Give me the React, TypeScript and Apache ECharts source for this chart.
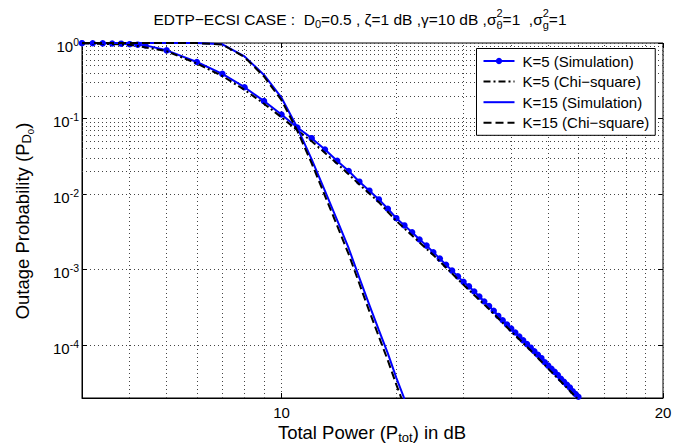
import React, { useEffect, useRef } from "react";
import * as echarts from "echarts";

const FONT = '"Liberation Sans", Arial, Helvetica, sans-serif';

// K=5 simulation: total power (linear scale), outage probability
const k5SimPower = [3, 3.2, 3.4, 3.6, 3.8, 4, 4.2, 4.4, 5, 6, 7, 8, 9, 10, 11, 12, 13, 14, 15, 16, 17, 18, 19, 20, 21, 22, 23, 24, 25, 26, 27, 28, 29, 30, 31, 32, 33, 34, 35, 36, 37, 38, 39, 40, 41, 42, 43, 44, 45, 46, 47, 48, 49, 50, 51, 52, 53, 54, 55, 56, 57, 58, 59, 60];
const k5SimOut = [0.995, 0.993, 0.99, 0.986, 0.98, 0.965, 0.95, 0.93, 0.8, 0.56, 0.39, 0.26, 0.17, 0.113, 0.076, 0.055, 0.039, 0.0275, 0.0202, 0.0146, 0.0111, 0.0085, 0.0064, 0.0048, 3.85e-3, 3.13e-3, 2.51e-3, 2.08e-3, 1.7e-3, 1.4e-3, 1.16e-3, 9.7e-4, 8.15e-4, 6.89e-4, 6.0e-4, 5.13e-4, 4.4e-4, 3.79e-4, 3.29e-4, 2.86e-4, 2.44e-4, 2.14e-4, 1.88e-4, 1.66e-4, 1.47e-4, 1.3e-4, 1.16e-4, 1.035e-4, 9.27e-5, 8.3e-5, 7.46e-5, 6.73e-5, 5.94e-5, 5.37e-5, 4.88e-5, 4.43e-5, 4.03e-5, 3.59e-5, 3.27e-5, 3.0e-5, 2.75e-5, 2.46e-5, 2.26e-5, 2.08e-5];

// K=5 chi-square approximation
const k5ChiPower = [3, 4, 5, 6, 7, 8, 9, 10, 11, 12, 14, 16, 18, 20, 25, 30, 35, 40, 45, 50, 55, 60];
const k5ChiOut = [0.995, 0.95, 0.78, 0.535, 0.365, 0.24, 0.157, 0.104, 0.07, 0.05, 0.0253, 0.0134, 0.0078, 0.0044, 1.56e-3, 6.3e-4, 3.0e-4, 1.52e-4, 8.5e-5, 4.9e-5, 3.0e-5, 1.9e-5];

// K=15 simulation
const k15SimPower = [3, 4, 5, 6, 7, 8, 9, 10, 11, 12, 13, 14, 15, 16, 17, 18, 19, 20, 21];
const k15SimOut = [1.0, 1.0, 0.9995, 0.998, 0.96, 0.665, 0.378, 0.189, 0.076, 0.0288, 0.011, 0.0045, 1.92e-3, 7.8e-4, 3.4e-4, 1.58e-4, 7.8e-5, 3.7e-5, 1.95e-5];

// K=15 chi-square approximation
const k15ChiPower = [3, 4, 5, 6, 7, 8, 9, 10, 11, 12, 13, 14, 15, 16, 17, 18, 19, 20, 21];
const k15ChiOut = [1.0, 1.0, 0.9995, 0.997, 0.955, 0.65, 0.36, 0.175, 0.069, 0.0255, 0.0095, 0.0038, 1.6e-3, 6.5e-4, 2.8e-4, 1.3e-4, 6.3e-5, 3.0e-5, 1.55e-5];

const seriesNames = ["K=5 (Simulation)", "K=5 (Chi\u2212square)", "K=15 (Simulation)", "K=15 (Chi\u2212square)"];

// axis ticks (x: linear power values labelled in dB)
const xTickPower = [10, 100];
const xTickLabels = ["10", "20"];
const yTickExponents = [0, -1, -2, -3, -4];

// minor grid positions
const minorGridPower = [4, 5, 6, 7, 8, 9, 20, 30, 40, 50, 60, 70, 80, 90];
const minorGridProb = [
  3e-5, 4e-5, 5e-5, 6e-5, 7e-5, 8e-5, 9e-5,
  2e-4, 3e-4, 4e-4, 5e-4, 6e-4, 7e-4, 8e-4, 9e-4,
  2e-3, 3e-3, 4e-3, 5e-3, 6e-3, 7e-3, 8e-3, 9e-3,
  0.02, 0.03, 0.04, 0.05, 0.06, 0.07, 0.08, 0.09,
  0.2, 0.3, 0.4, 0.5, 0.6, 0.7, 0.8, 0.9,
];

type TitlePart = { kind: "n" | "sub" | "stack"; text?: string; sup?: string; sub?: string };
const titleParts: TitlePart[] = [
  { kind: "n", text: "EDTP\u2212ECSI CASE :  D" },
  { kind: "sub", text: "0" },
  { kind: "n", text: "=0.5 , \u03b6=1 dB ,\u03b3=10 dB ,\u03c3" },
  { kind: "stack", sup: "2", sub: "\u03b8" },
  { kind: "n", text: "=1  ,\u03c3" },
  { kind: "stack", sup: "2", sub: "g" },
  { kind: "n", text: "=1" },
];

const zip = (xs: number[], ys: number[]) => xs.map((x, i) => [x, ys[i]]);

export default function App() {
  const ref = useRef<HTMLDivElement>(null);
  useEffect(() => {
    document.body.style.margin = "0";
    const el = ref.current!;
    const chart = echarts.init(el, undefined, { renderer: "svg", width: 691, height: 445 });

    const ctx = document.createElement("canvas").getContext("2d")!;
    const measure = (t: string, fs: number) => {
      ctx.font = `${fs}px ${FONT}`;
      return ctx.measureText(t).width;
    };

    const TF = 15.5;
    const TS = 11;
    const TY = 19;
    const partW = titleParts.map((p) =>
      p.kind === "stack" ? Math.max(measure(p.sup!, TS), measure(p.sub!, TS)) : measure(p.text!, p.kind === "sub" ? TS : TF)
    );
    const total = partW.reduce((a, b) => a + b, 0);
    let tx = 360 - total / 2;
    const titleEls: any[] = [];
    const txt = (text: string, x: number, y: number, fs: number) => ({
      type: "text",
      x,
      y,
      silent: true,
      style: { text, fontSize: fs, fontFamily: FONT, fill: "#000", align: "left", verticalAlign: "middle" },
    });
    titleParts.forEach((p, i) => {
      if (p.kind === "n") titleEls.push(txt(p.text!, tx, TY, TF));
      else if (p.kind === "sub") titleEls.push(txt(p.text!, tx, TY + 5, TS));
      else {
        titleEls.push(txt(p.sup!, tx, TY - 6, TS));
        titleEls.push(txt(p.sub!, tx, TY + 6, TS));
      }
      tx += partW[i];
    });

    const gridLine = { color: "#444", width: 1, type: [1, 3] as any };

    const xFormatter = (v: number) => {
      const i = xTickPower.findIndex((p) => Math.abs(p - v) / p < 1e-6);
      return i >= 0 ? xTickLabels[i] : "";
    };
    const yFormatter = (v: number) => {
      const l = Math.log10(v);
      const e = Math.round(l);
      if (Math.abs(l - e) > 1e-6 || !yTickExponents.includes(e)) return "";
      return `{b|10}{e|${e}}`;
    };

    const option: any = {
      animation: false,
      backgroundColor: "#fff",
      grid: { left: 82, right: 28, top: 43, bottom: 47, show: true, borderColor: "#000", borderWidth: 1, backgroundColor: "#fff" },
      xAxis: [
        {
          type: "log",
          logBase: 10,
          min: 3,
          max: 100,
          position: "bottom",
          axisLine: { show: true, lineStyle: { color: "#000", width: 1 } },
          axisTick: { show: true, inside: true, length: 5, lineStyle: { color: "#000" } },
          axisLabel: { formatter: xFormatter, color: "#000", fontSize: 15, fontFamily: FONT, margin: 7 },
          splitLine: { show: true, lineStyle: gridLine },
        },
        {
          type: "log",
          logBase: 10,
          min: 3,
          max: 100,
          position: "top",
          axisLine: { show: false },
          axisTick: { show: true, inside: true, length: 5, lineStyle: { color: "#000" } },
          axisLabel: { show: false },
          splitLine: { show: false },
        },
      ],
      yAxis: [
        {
          type: "log",
          logBase: 10,
          min: 2e-5,
          max: 1,
          position: "left",
          axisLine: { show: true, lineStyle: { color: "#000", width: 1 } },
          axisTick: { show: true, inside: true, length: 5, lineStyle: { color: "#000" } },
          axisLabel: {
            formatter: yFormatter,
            margin: 3,
            rich: {
              b: { fontSize: 15, fontFamily: FONT, color: "#000", lineHeight: 16, padding: [6, 0, 0, 0] },
              e: { fontSize: 10.5, fontFamily: FONT, color: "#000", lineHeight: 11, verticalAlign: "top", padding: [1, 0, 0, 0] },
            },
          },
          splitLine: { show: true, lineStyle: gridLine },
        },
        {
          type: "log",
          logBase: 10,
          min: 2e-5,
          max: 1,
          position: "right",
          axisLine: { show: false },
          axisTick: { show: true, inside: true, length: 5, lineStyle: { color: "#000" } },
          axisLabel: { show: false },
          splitLine: { show: false },
        },
      ],
      legend: {
        data: seriesNames.map((name, i) => (i === 0 ? { name } : { name, itemStyle: { opacity: 0 } })),
        orient: "vertical",
        left: 476.5,
        top: 48.5,
        itemWidth: 31,
        itemHeight: 8,
        itemGap: 5.6,
        padding: [5, 6, 5, 6],
        backgroundColor: "#fff",
        borderColor: "#000",
        borderWidth: 1,
        borderRadius: 0,
        selectedMode: false,
        textStyle: { fontSize: 15, fontFamily: FONT, color: "#000", lineHeight: 12, padding: [0, 0, 0, 3] },
      },
      graphic: [
        ...titleEls,
        {
          type: "text",
          x: 22,
          y: 221,
          rotation: Math.PI / 2,
          silent: true,
          style: {
            text: "Outage Probability (P{d|D}{z|0})",
            fontSize: 18.5,
            fontFamily: FONT,
            fill: "#000",
            align: "center",
            verticalAlign: "middle",
            lineHeight: 22,
            rich: {
              d: { fontSize: 13, fontFamily: FONT, fill: "#000", lineHeight: 13, padding: [9, 0, 0, 0] },
              z: { fontSize: 9.5, fontFamily: FONT, fill: "#000", lineHeight: 10, padding: [17, 0, 0, 0] },
            },
          },
        },
        {
          type: "text",
          x: 372,
          y: 432,
          silent: true,
          style: {
            text: "Total Power (P{s|tot}) in dB",
            fontSize: 18.5,
            fontFamily: FONT,
            fill: "#000",
            align: "center",
            verticalAlign: "middle",
            lineHeight: 22,
            rich: {
              s: { fontSize: 13, fontFamily: FONT, fill: "#000", lineHeight: 13, padding: [11, 0, 0, 0] },
            },
          },
        },
      ],
      series: [
        {
          name: seriesNames[0],
          type: "line",
          data: zip(k5SimPower, k5SimOut),
          symbol: "circle",
          symbolSize: 6.5,
          showSymbol: true,
          itemStyle: { color: "#0000ff" },
          lineStyle: { color: "#0000ff", width: 2 },
          z: 3,
          markLine: {
            silent: true,
            z: 1,
            symbol: ["none", "none"],
            label: { show: false },
            emphasis: { disabled: true },
            lineStyle: gridLine,
            data: [...minorGridPower.map((v) => ({ xAxis: v })), ...minorGridProb.map((v) => ({ yAxis: v }))],
          },
        },
        {
          name: seriesNames[1],
          type: "line",
          data: zip(k5ChiPower, k5ChiOut),
          symbol: "none",
          itemStyle: { color: "#000" },
          lineStyle: { color: "#000", width: 2, type: [7, 3, 2, 3] },
          z: 4,
        },
        {
          name: seriesNames[2],
          type: "line",
          data: zip(k15SimPower, k15SimOut),
          symbol: "none",
          itemStyle: { color: "#0000ff" },
          lineStyle: { color: "#0000ff", width: 2 },
          z: 5,
        },
        {
          name: seriesNames[3],
          type: "line",
          data: zip(k15ChiPower, k15ChiOut),
          symbol: "none",
          itemStyle: { color: "#000" },
          lineStyle: { color: "#000", width: 2, type: [8, 4] },
          z: 6,
        },
      ],
    };
    chart.setOption(option);
    return () => chart.dispose();
  }, []);
  return <div ref={ref} style={{ width: 691, height: 445 }} />;
}
